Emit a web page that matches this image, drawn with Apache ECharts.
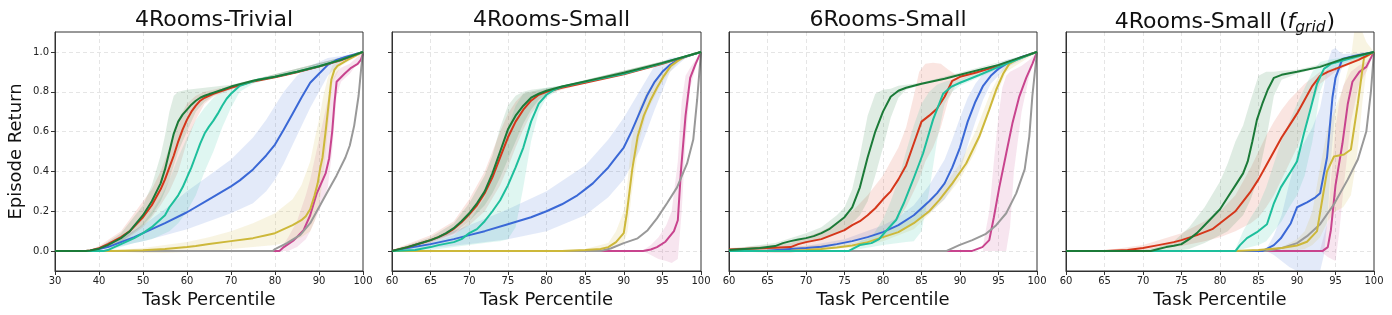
<!DOCTYPE html>
<html>
<head>
<meta charset="utf-8">
<script src="https://cdn.jsdelivr.net/npm/echarts@6/dist/echarts.min.js"></script>
<style>
html,body{margin:0;padding:0;background:#fff;}
#chart{width:1392px;height:315px;}
</style>
</head>
<body>
<div id="chart"></div>
<script>
// ---------- titles / ticks ----------
const panelTitles = ['4Rooms-Trivial', '4Rooms-Small', '6Rooms-Small', '4Rooms-Small (f_grid)'];
const xRanges = [[30, 100, 10], [60, 100, 5], [60, 100, 5], [60, 100, 5]];
const yTicks = [0, 0.2, 0.4, 0.6, 0.8, 1.0];
const seriesNames = ['pink', 'gray', 'blue', 'yellow', 'red', 'teal', 'green'];

// ---------- Panel 1: 4Rooms-Trivial ----------
const p1_green = [[30,0],[37,0],[38,0.003],[40,0.012],[42,0.03],[45,0.065],[47,0.1],[50,0.18],[52,0.25],[54,0.34],[55,0.41],[56,0.5],[57,0.59],[58,0.65],[59,0.685],[60,0.71],[61,0.735],[62,0.755],[63,0.77],[64,0.78],[66,0.795],[68,0.81],[70,0.826],[75,0.855],[80,0.875],[85,0.9],[90,0.928],[95,0.96],[100,1.0]];
const p1_red = [[30,0],[37,0],[38,0.003],[40,0.015],[42,0.035],[45,0.07],[47,0.1],[50,0.17],[52,0.23],[54,0.31],[55,0.36],[56,0.42],[57,0.48],[58,0.55],[59,0.61],[60,0.66],[61,0.7],[62,0.73],[63,0.755],[64,0.77],[66,0.79],[68,0.805],[70,0.82],[75,0.852],[80,0.873],[85,0.898],[90,0.926],[95,0.958],[100,1.0]];
const p1_teal = [[30,0],[41,0],[42,0.005],[44,0.025],[46,0.045],[48,0.065],[50,0.09],[52,0.12],[54,0.16],[55,0.18],[56,0.22],[57,0.25],[58,0.28],[59,0.32],[60,0.37],[61,0.42],[62,0.48],[63,0.54],[64,0.59],[65,0.625],[66,0.655],[67,0.69],[68,0.73],[69,0.765],[70,0.79],[71,0.81],[72,0.83],[74,0.845],[76,0.86],[80,0.875],[85,0.9],[90,0.928],[95,0.96],[100,1.0]];
const p1_blue = [[30,0],[38,0],[40,0.01],[42,0.02],[45,0.045],[48,0.07],[50,0.09],[55,0.14],[60,0.195],[65,0.26],[70,0.325],[72,0.355],[75,0.41],[78,0.48],[80,0.535],[82,0.61],[84,0.69],[86,0.77],[88,0.845],[90,0.89],[92,0.935],[94,0.96],[96,0.975],[100,1.0]];
const p1_yellow = [[30,0],[42,0],[46,0.002],[50,0.004],[55,0.01],[60,0.02],[62,0.025],[65,0.035],[70,0.05],[75,0.065],[78,0.08],[80,0.09],[82,0.11],[84,0.13],[86,0.155],[87,0.175],[88,0.21],[89,0.28],[89.7,0.34],[90.3,0.42],[90.8,0.47],[91.5,0.6],[92,0.7],[92.5,0.8],[92.8,0.86],[93.5,0.91],[94.2,0.93],[96.5,0.96],[100,1.0]];
const p1_pink = [[30,0],[81,0],[82,0.02],[84.3,0.055],[86.5,0.105],[88,0.18],[89.5,0.29],[91.5,0.39],[92.3,0.465],[93,0.6],[93.5,0.74],[94,0.85],[95.8,0.89],[97.3,0.92],[98.8,0.94],[99.5,0.96],[100,0.99]];
const p1_gray = [[30,0],[79.5,0],[80,0.01],[82.7,0.04],[85.7,0.08],[88,0.14],[90,0.22],[92,0.3],[94,0.38],[96,0.47],[97,0.53],[98,0.63],[99,0.78],[99.6,0.92],[100,1.0]];

const p1_green_band = [[38,0,0.005],[40,0.005,0.018],[45,0.045,0.09],[50,0.13,0.23],[52,0.18,0.33],[54,0.25,0.48],[55,0.3,0.58],[56,0.36,0.7],[57,0.43,0.78],[58,0.5,0.8],[60,0.6,0.81],[62,0.7,0.815],[64,0.75,0.82],[66,0.78,0.825],[70,0.815,0.835],[75,0.85,0.86],[100,0.995,1.0]];
const p1_red_band = [[38,0,0.006],[40,0.008,0.025],[45,0.04,0.1],[50,0.12,0.25],[52,0.17,0.31],[54,0.23,0.4],[56,0.3,0.52],[58,0.4,0.66],[60,0.55,0.74],[62,0.66,0.78],[64,0.74,0.8],[66,0.775,0.81],[70,0.81,0.83],[75,0.845,0.86],[100,0.995,1.0]];
const p1_teal_band = [[42,0,0.01],[45,0.02,0.06],[48,0.04,0.1],[50,0.05,0.14],[52,0.06,0.2],[54,0.08,0.27],[56,0.1,0.36],[58,0.14,0.47],[60,0.2,0.57],[62,0.28,0.66],[64,0.4,0.72],[66,0.5,0.77],[68,0.62,0.8],[70,0.72,0.83],[72,0.8,0.84],[75,0.84,0.86],[100,0.995,1.0]];
const p1_blue_band = [[38,0,0.005],[40,0.005,0.02],[45,0.025,0.07],[50,0.05,0.13],[55,0.08,0.21],[60,0.11,0.3],[65,0.15,0.38],[70,0.19,0.46],[75,0.24,0.57],[78,0.3,0.66],[80,0.36,0.73],[82,0.44,0.8],[85,0.58,0.88],[88,0.72,0.93],[90,0.8,0.95],[92,0.88,0.97],[95,0.95,0.98],[100,0.995,1.0]];
const p1_yellow_band = [[42,0,0.002],[50,-0.01,0.015],[55,-0.01,0.03],[60,-0.005,0.045],[65,0.0,0.07],[70,0.01,0.1],[75,0.02,0.14],[80,0.03,0.19],[84,0.05,0.26],[86,0.07,0.33],[88,0.1,0.45],[89,0.15,0.56],[90,0.23,0.66],[91,0.38,0.78],[92,0.6,0.87],[93,0.84,0.93],[95,0.93,0.97],[100,0.995,1.0]];
const p1_pink_band = [[81,0,0.002],[83,0.0,0.07],[85,0.02,0.15],[87,0.06,0.28],[88,0.1,0.36],[89,0.15,0.46],[90,0.2,0.56],[91,0.26,0.66],[92,0.32,0.76],[93,0.5,0.86],[94,0.78,0.9],[95,0.85,0.92],[97,0.89,0.94],[100,0.98,1.0]];
const p1_gray_band = [];

// ---------- Panel 2: 4Rooms-Small ----------
const p2_green = [[60,0],[62,0.02],[64,0.043],[65,0.055],[66,0.07],[67,0.09],[68,0.115],[69,0.15],[70,0.19],[71,0.24],[72,0.3],[73,0.39],[74,0.5],[75,0.61],[76,0.68],[77,0.73],[78,0.77],[79,0.79],[80,0.805],[82,0.826],[85,0.852],[90,0.895],[95,0.945],[100,1.0]];
const p2_red = [[60,0],[62,0.02],[64,0.043],[65,0.055],[66,0.07],[67,0.088],[68,0.112],[69,0.145],[70,0.185],[71,0.23],[72,0.29],[73,0.37],[74,0.47],[75,0.57],[76,0.65],[77,0.71],[78,0.755],[79,0.785],[80,0.8],[82,0.82],[85,0.845],[90,0.888],[95,0.94],[100,1.0]];
const p2_teal = [[60,0],[63,0.005],[65,0.02],[66,0.03],[68,0.045],[69,0.06],[70,0.09],[71,0.11],[72,0.15],[73,0.2],[74,0.255],[75,0.33],[76,0.42],[77,0.52],[78,0.65],[79,0.74],[80,0.785],[81,0.81],[82,0.825],[85,0.85],[90,0.89],[95,0.943],[100,1.0]];
const p2_blue = [[60,0],[62,0.015],[65,0.035],[68,0.06],[70,0.08],[72,0.1],[75,0.135],[78,0.17],[80,0.2],[82,0.235],[84,0.28],[85,0.31],[86,0.34],[87,0.38],[88,0.42],[89,0.47],[90,0.52],[91,0.6],[92,0.69],[93,0.78],[94,0.85],[95,0.9],[96,0.935],[97,0.96],[98,0.975],[100,1.0]];
const p2_yellow = [[60,0],[82,0],[85,0.005],[87,0.01],[88,0.02],[89,0.045],[90,0.09],[90.4,0.19],[91.1,0.41],[91.8,0.575],[92.6,0.68],[93.5,0.76],[94.3,0.82],[95.2,0.88],[96.1,0.93],[97,0.955],[97.8,0.975],[100,1.0]];
const p2_pink = [[60,0],[92.5,0],[93.5,0.008],[94.3,0.02],[95.4,0.047],[96.5,0.1],[97,0.155],[97.4,0.4],[98,0.68],[98.6,0.87],[99.3,0.94],[100,1.0]];
const p2_gray = [[60,0],[87,0],[88.3,0.013],[90,0.04],[91.8,0.064],[93.1,0.105],[94.3,0.164],[95.6,0.24],[96.9,0.32],[98.2,0.44],[99,0.56],[99.5,0.76],[100,1.0]];

const p2_green_band = [[60,0,0.003],[65,0.045,0.07],[68,0.09,0.14],[70,0.15,0.24],[72,0.23,0.38],[73,0.29,0.48],[74,0.37,0.62],[75,0.46,0.73],[76,0.55,0.78],[77,0.64,0.8],[78,0.71,0.81],[79,0.76,0.815],[80,0.79,0.82],[82,0.82,0.832],[100,0.998,1.0]];
const p2_red_band = [[60,0,0.005],[65,0.04,0.08],[68,0.085,0.15],[70,0.13,0.26],[72,0.2,0.4],[74,0.33,0.6],[75,0.42,0.69],[76,0.52,0.75],[77,0.61,0.79],[78,0.69,0.8],[80,0.785,0.815],[82,0.81,0.83],[100,0.998,1.0]];
const p2_teal_band = [[62,0,0.01],[65,0.005,0.04],[68,0.02,0.08],[70,0.03,0.15],[72,0.04,0.27],[73,0.045,0.37],[74,0.05,0.5],[75,0.06,0.62],[76,0.12,0.73],[77,0.32,0.79],[78,0.55,0.8],[79,0.7,0.81],[80,0.77,0.82],[82,0.82,0.83],[100,0.998,1.0]];
const p2_blue_band = [[60,0,0.003],[62,0.005,0.025],[65,0.015,0.06],[70,0.035,0.13],[75,0.06,0.21],[80,0.1,0.3],[85,0.18,0.43],[88,0.27,0.56],[90,0.36,0.67],[92,0.5,0.8],[94,0.71,0.93],[96,0.9,0.97],[98,0.97,0.98],[100,0.998,1.0]];
const p2_yellow_band = [[85,0,0.01],[88,0.005,0.04],[89,0.02,0.1],[90,0.04,0.2],[90.5,0.1,0.35],[91,0.28,0.55],[92,0.55,0.72],[93,0.7,0.8],[95,0.85,0.9],[97,0.95,0.965],[100,0.998,1.0]];
const p2_pink_band = [[92.5,0,0.003],[93.5,-0.02,0.03],[94.5,-0.04,0.07],[95.5,-0.05,0.13],[96.2,-0.06,0.2],[97,-0.04,0.45],[97.5,0.2,0.75],[98,0.55,0.88],[98.6,0.82,0.92],[99.3,0.92,0.96],[100,0.995,1.0]];
const p2_gray_band = [];

// ---------- Panel 3: 6Rooms-Small ----------
const p3_green = [[60,0.005],[62,0.01],[64,0.015],[66,0.025],[67,0.04],[68,0.05],[69,0.058],[70,0.065],[71,0.075],[72,0.09],[73,0.11],[74,0.14],[75,0.17],[76,0.22],[77,0.32],[78,0.47],[79,0.6],[80,0.7],[81,0.775],[82,0.805],[83,0.82],[85,0.84],[88,0.865],[90,0.885],[95,0.935],[100,1.0]];
const p3_red = [[60,0.008],[65,0.015],[68,0.02],[69,0.035],[70,0.045],[72,0.06],[74,0.09],[75,0.105],[76,0.13],[77,0.15],[78,0.18],[79,0.215],[80,0.26],[81,0.3],[82,0.36],[83,0.43],[84,0.54],[85,0.65],[86,0.68],[87,0.715],[88,0.775],[89,0.855],[90,0.875],[92,0.895],[95,0.93],[100,1.0]];
const p3_teal = [[60,0],[75.5,0],[76.5,0.02],[77,0.03],[78.5,0.04],[79.5,0.06],[80.3,0.097],[81.7,0.156],[82.7,0.24],[83.9,0.357],[85.2,0.49],[86.5,0.66],[87.8,0.79],[88.9,0.826],[90,0.845],[92.5,0.884],[95,0.925],[100,1.0]];
const p3_blue = [[60,0],[65,0.002],[68,0.01],[70,0.015],[72,0.022],[74,0.035],[76,0.05],[78,0.07],[80,0.095],[82,0.13],[84,0.18],[86,0.25],[87,0.29],[88,0.34],[89,0.42],[90,0.52],[91,0.65],[92,0.75],[93,0.83],[94,0.88],[95,0.915],[96,0.94],[98,0.975],[100,1.0]];
const p3_yellow = [[60,0],[68,0.002],[70,0.005],[72,0.01],[74,0.018],[76,0.028],[78,0.045],[80,0.07],[82,0.095],[84,0.14],[86,0.2],[87.3,0.256],[89,0.34],[90.8,0.44],[92.5,0.575],[93.8,0.71],[94.7,0.81],[95.6,0.89],[96.4,0.94],[97.3,0.96],[100,1.0]];
const p3_pink = [[60,0],[91.5,0],[92.9,0.02],[93.8,0.055],[94.4,0.17],[95.1,0.32],[96,0.49],[96.8,0.64],[97.7,0.776],[98.6,0.87],[99.4,0.94],[100,1.0]];
const p3_gray = [[60,0],[88.2,0],[89.9,0.03],[91.6,0.055],[93.3,0.085],[94.7,0.13],[96,0.19],[97.3,0.29],[98.4,0.41],[99,0.575],[99.4,0.78],[100,1.0]];

const p3_green_band = [[60,0,0.01],[66,0.01,0.04],[70,0.04,0.09],[72,0.06,0.12],[74,0.09,0.18],[75,0.11,0.22],[76,0.14,0.31],[77,0.18,0.48],[78,0.25,0.68],[79,0.38,0.79],[80,0.52,0.81],[81,0.67,0.815],[82,0.77,0.83],[83,0.81,0.835],[85,0.835,0.845],[100,0.998,1.0]];
const p3_red_band = [[60,0.0,0.015],[66,-0.01,0.03],[68,-0.01,0.04],[70,0.005,0.07],[72,0.015,0.1],[74,0.03,0.14],[76,0.05,0.2],[78,0.07,0.28],[80,0.1,0.38],[82,0.16,0.52],[83,0.22,0.62],[84,0.3,0.78],[84.7,0.36,0.9],[85.5,0.45,0.94],[86.5,0.52,0.945],[87.5,0.62,0.94],[88.5,0.76,0.91],[89.5,0.84,0.885],[91,0.87,0.89],[100,0.998,1.0]];
const p3_teal_band = [[75.5,0,0.003],[77,0.01,0.05],[78.5,0.02,0.07],[80,0.03,0.16],[81,0.035,0.25],[82,0.04,0.36],[83,0.045,0.5],[84,0.05,0.63],[85,0.1,0.74],[86,0.3,0.8],[87,0.55,0.835],[88,0.74,0.85],[89,0.8,0.86],[90,0.83,0.865],[100,0.998,1.0]];
const p3_blue_band = [[60,0,0.003],[70,0.005,0.025],[75,0.025,0.06],[80,0.07,0.13],[82,0.1,0.17],[84,0.14,0.23],[86,0.19,0.33],[88,0.26,0.46],[89,0.32,0.56],[90,0.4,0.67],[91,0.53,0.77],[92,0.65,0.84],[93,0.76,0.89],[94,0.84,0.92],[96,0.92,0.96],[100,0.998,1.0]];
const p3_yellow_band = [[60,0,0.003],[76,0.015,0.04],[80,0.05,0.09],[84,0.11,0.17],[88,0.26,0.33],[90,0.36,0.44],[92,0.5,0.6],[94,0.72,0.8],[96,0.9,0.95],[100,0.998,1.0]];
const p3_pink_band = [[93,0,0.03],[93.8,0,0.2],[94.4,0,0.45],[95,0,0.68],[95.5,0.0,0.82],[96,0.0,0.88],[96.5,0.12,0.9],[97,0.4,0.91],[98,0.7,0.93],[99,0.88,0.96],[100,0.995,1.0]];
const p3_gray_band = [];

// ---------- Panel 4: 4Rooms-Small (f_grid) ----------
const p4_green = [[60,0],[71,0],[72,0.01],[73,0.02],[74,0.027],[75,0.035],[76,0.06],[77,0.09],[78,0.13],[79,0.17],[80,0.21],[81,0.27],[82,0.33],[83,0.39],[83.6,0.45],[84.2,0.55],[84.8,0.66],[85.5,0.74],[86.2,0.81],[87,0.87],[88,0.885],[90,0.9],[93,0.925],[96,0.965],[100,1.0]];
const p4_red = [[60,0],[65,0],[68,0.005],[70,0.015],[72,0.03],[74,0.045],[75,0.055],[77,0.08],[79,0.11],[80,0.14],[81,0.17],[82,0.2],[83,0.25],[84,0.3],[85,0.36],[86,0.43],[87,0.5],[88,0.57],[89,0.63],[90,0.69],[91,0.76],[92,0.83],[93,0.88],[94,0.9],[96,0.93],[98,0.96],[100,1.0]];
const p4_teal = [[60,0],[82,0],[82.6,0.03],[83.5,0.065],[84.8,0.095],[86.1,0.135],[87,0.24],[87.9,0.32],[89.2,0.4],[90,0.45],[90.9,0.59],[91.8,0.72],[92.6,0.84],[93.5,0.915],[94.4,0.94],[100,1.0]];
const p4_blue = [[60,0],[85.5,0],[87,0.03],[87.9,0.064],[89.2,0.14],[90,0.22],[91.3,0.245],[92.4,0.27],[93,0.29],[93.9,0.47],[94.6,0.77],[95,0.87],[95.9,0.965],[97.4,0.98],[100,1.0]];
const p4_yellow = [[60,0],[82,0],[85,0.005],[88,0.015],[90,0.028],[91.3,0.047],[92.6,0.1],[93.2,0.24],[93.9,0.4],[94.8,0.475],[96.1,0.485],[97,0.51],[97.9,0.74],[98.7,0.97],[100,1.0]];
const p4_pink = [[60,0],[93.3,0],[94,0.02],[94.4,0.105],[95,0.33],[95.9,0.54],[96.6,0.74],[97.2,0.85],[98.1,0.9],[99,0.925],[100,1.0]];
const p4_gray = [[60,0],[86,0],[88,0.015],[90,0.04],[91.3,0.075],[93,0.135],[94.8,0.235],[96.6,0.36],[97.9,0.46],[99,0.6],[99.6,0.8],[100,1.0]];

const p4_green_band = [[70,0,0.005],[72,0.0,0.02],[74,0.0,0.05],[76,0.01,0.12],[78,0.04,0.22],[80,0.08,0.35],[81,0.1,0.44],[82,0.14,0.55],[83,0.18,0.63],[84,0.26,0.76],[85,0.38,0.88],[86,0.56,0.9],[87,0.78,0.9],[88,0.86,0.905],[90,0.89,0.91],[100,0.998,1.0]];
const p4_red_band = [[65,0,0.003],[70,0.005,0.03],[75,0.025,0.09],[78,0.05,0.15],[80,0.07,0.2],[82,0.1,0.28],[84,0.14,0.42],[85,0.17,0.5],[86,0.22,0.58],[87,0.28,0.65],[88,0.36,0.71],[89,0.44,0.76],[90,0.52,0.8],[91,0.62,0.84],[92,0.74,0.87],[93,0.84,0.9],[95,0.9,0.92],[100,0.998,1.0]];
const p4_teal_band = [[82,0,0.01],[83,0.01,0.1],[84,0.02,0.17],[85,0.03,0.23],[86,0.05,0.32],[87,0.1,0.44],[88,0.15,0.56],[89,0.22,0.65],[90,0.28,0.74],[91,0.38,0.82],[92,0.55,0.9],[93,0.8,0.95],[94,0.9,0.96],[100,0.998,1.0]];
const p4_blue_band = [[86,0,0.01],[87,-0.02,0.08],[88,-0.05,0.18],[89,-0.08,0.34],[90,-0.1,0.48],[91,-0.12,0.55],[92,-0.12,0.62],[93,-0.1,0.72],[93.5,-0.02,0.82],[94,0.18,0.95],[94.5,0.5,1.01],[95,0.72,1.02],[95.5,0.88,1.0],[96,0.94,0.99],[100,0.998,1.0]];
const p4_yellow_band = [[88,0,0.02],[90,0.005,0.06],[91,0.01,0.1],[92,0.03,0.2],[93,0.07,0.42],[94,0.15,0.62],[95,0.2,0.72],[96,0.22,0.82],[97,0.28,0.97],[97.5,0.4,1.12],[98,0.55,1.15],[98.5,0.75,1.1],[99,0.9,1.05],[100,0.998,1.0]];
const p4_pink_band = [[93,0,0.005],[94,-0.03,0.15],[94.5,-0.04,0.4],[95,-0.05,0.62],[95.5,0.1,0.75],[96,0.3,0.83],[97,0.65,0.9],[98,0.83,0.93],[99,0.9,0.95],[100,0.995,1.0]];
const p4_gray_band = [];

// ---------- assembly ----------
const panels = [
  {gray:p1_gray, pink:p1_pink, yellow:p1_yellow, blue:p1_blue, teal:p1_teal, red:p1_red, green:p1_green,
   bands:{gray:p1_gray_band, pink:p1_pink_band, yellow:p1_yellow_band, blue:p1_blue_band, teal:p1_teal_band, red:p1_red_band, green:p1_green_band}},
  {gray:p2_gray, pink:p2_pink, yellow:p2_yellow, blue:p2_blue, teal:p2_teal, red:p2_red, green:p2_green,
   bands:{gray:p2_gray_band, pink:p2_pink_band, yellow:p2_yellow_band, blue:p2_blue_band, teal:p2_teal_band, red:p2_red_band, green:p2_green_band}},
  {gray:p3_gray, pink:p3_pink, yellow:p3_yellow, blue:p3_blue, teal:p3_teal, red:p3_red, green:p3_green,
   bands:{gray:p3_gray_band, pink:p3_pink_band, yellow:p3_yellow_band, blue:p3_blue_band, teal:p3_teal_band, red:p3_red_band, green:p3_green_band}},
  {gray:p4_gray, pink:p4_pink, yellow:p4_yellow, blue:p4_blue, teal:p4_teal, red:p4_red, green:p4_green,
   bands:{gray:p4_gray_band, pink:p4_pink_band, yellow:p4_yellow_band, blue:p4_blue_band, teal:p4_teal_band, red:p4_red_band, green:p4_green_band}}
];

const lineColors = {gray:'#999999', pink:'#c8448e', yellow:'#cdb83a', blue:'#3a68d6', teal:'#1dbf9c', red:'#d5361a', green:'#1b7a38'};
const bandColors = {gray:'rgba(153,153,153,0.15)', pink:'rgba(200,68,142,0.14)', yellow:'rgba(205,184,58,0.15)', blue:'rgba(58,104,214,0.14)', teal:'rgba(29,191,156,0.14)', red:'rgba(213,54,26,0.13)', green:'rgba(27,122,56,0.14)'};

const gridLefts = [55, 392, 729, 1066];
const gridWidths = [308, 309, 308, 308];
const FONT = 'DejaVu Sans';

const grids = [], xAxes = [], yAxes = [], titles = [], series = [];
for (let i = 0; i < 4; i++) {
  grids.push({left: gridLefts[i], top: 32, width: gridWidths[i], height: 239, show: true, borderColor: '#333', borderWidth: 1, containLabel: false, z: 5});
  const cx = gridLefts[i] + gridWidths[i] / 2;
  if (i < 3) {
    titles.push({text: panelTitles[i], left: cx, top: 4, textAlign: 'center',
      textStyle: {fontFamily: FONT, fontSize: 22, fontWeight: 'normal', color: '#111'}});
  } else {
    const parts = panelTitles[i].match(/^(.*\()f_(\w+)(\))$/);
    titles.push({text: '{a|' + parts[1] + '}{f|f}{s|' + parts[2] + '}{a|' + parts[3] + '}', left: cx, top: 4, textAlign: 'center',
      textStyle: {fontFamily: FONT, fontSize: 22, fontWeight: 'normal', color: '#111', rich: {
        a: {fontFamily: FONT, fontSize: 22, fontWeight: 'normal', color: '#111', lineHeight: 27},
        f: {fontFamily: FONT, fontSize: 22, fontWeight: 'normal', fontStyle: 'italic', color: '#111', lineHeight: 27},
        s: {fontFamily: FONT, fontSize: 15.5, fontWeight: 'normal', fontStyle: 'italic', color: '#111', verticalAlign: 'bottom', lineHeight: 27, padding: [11, 1, 0, 0]}
      }}});
  }
  const [xmin, xmax, xint] = xRanges[i];
  xAxes.push({
    type: 'value', gridIndex: i, min: xmin, max: xmax, interval: xint,
    name: 'Task Percentile', nameLocation: 'middle', nameGap: 20,
    nameTextStyle: {fontFamily: FONT, fontSize: 18, color: '#111'},
    axisLine: {show: true, onZero: false, lineStyle: {color: '#333', width: 1}},
    axisTick: {show: true, inside: false, length: 4, lineStyle: {color: '#333'}},
    axisLabel: {fontFamily: FONT, fontSize: 10, color: '#222', margin: 5, showMinLabel: true, showMaxLabel: true},
    splitLine: {show: true, showMinLine: false, showMaxLine: false, lineStyle: {color: '#dedede', type: [4, 3], width: 0.8}}
  });
  yAxes.push({
    type: 'value', gridIndex: i, min: -0.1, max: 1.1,
    name: i === 0 ? 'Episode Return' : '', nameLocation: 'middle', nameGap: 30,
    nameTextStyle: {fontFamily: FONT, fontSize: 18, color: '#111'},
    axisLine: {show: true, onZero: false, lineStyle: {color: '#333', width: 1}},
    axisTick: {show: true, inside: false, length: 4, lineStyle: {color: '#333'}, customValues: yTicks},
    axisLabel: {show: i === 0, fontFamily: FONT, fontSize: 10, color: '#222', margin: 6, customValues: yTicks,
      formatter: v => Number(v).toFixed(1)},
    splitLine: {show: true, lineStyle: {color: '#dedede', type: [4, 3], width: 0.8}}
  });

  const P = panels[i];
  // bands first
  seriesNames.forEach(name => {
    const band = P.bands[name];
    if (!band || !band.length) return;
    const fill = bandColors[name];
    series.push({
      type: 'custom', xAxisIndex: i, yAxisIndex: i, z: 1, silent: true, clip: true,
      data: band, encode: {x: 0, y: [1, 2]},
      renderItem: function (params, api) {
        if (params.dataIndex !== 0) return null;
        const top = band.map(d => api.coord([d[0], d[2]]));
        const bot = band.map(d => api.coord([d[0], d[1]])).reverse();
        const cs = params.coordSys;
        return {type: 'polygon', shape: {points: top.concat(bot)}, style: {fill: fill, stroke: null},
          clipPath: {type: 'rect', shape: {x: cs.x, y: cs.y, width: cs.width, height: cs.height}}};
      }
    });
  });
  seriesNames.forEach((name, k) => {
    series.push({
      type: 'line', name: name, xAxisIndex: i, yAxisIndex: i, data: P[name],
      showSymbol: false, symbol: 'none', smooth: false, z: 3 + k, silent: true, clip: true,
      lineStyle: {color: lineColors[name], width: 2}
    });
  });
}

const chart = echarts.init(document.getElementById('chart'), null, {renderer: 'canvas'});
chart.setOption({
  animation: false,
  backgroundColor: '#fff',
  title: titles,
  grid: grids,
  xAxis: xAxes,
  yAxis: yAxes,
  series: series
});
</script>
</body>
</html>
